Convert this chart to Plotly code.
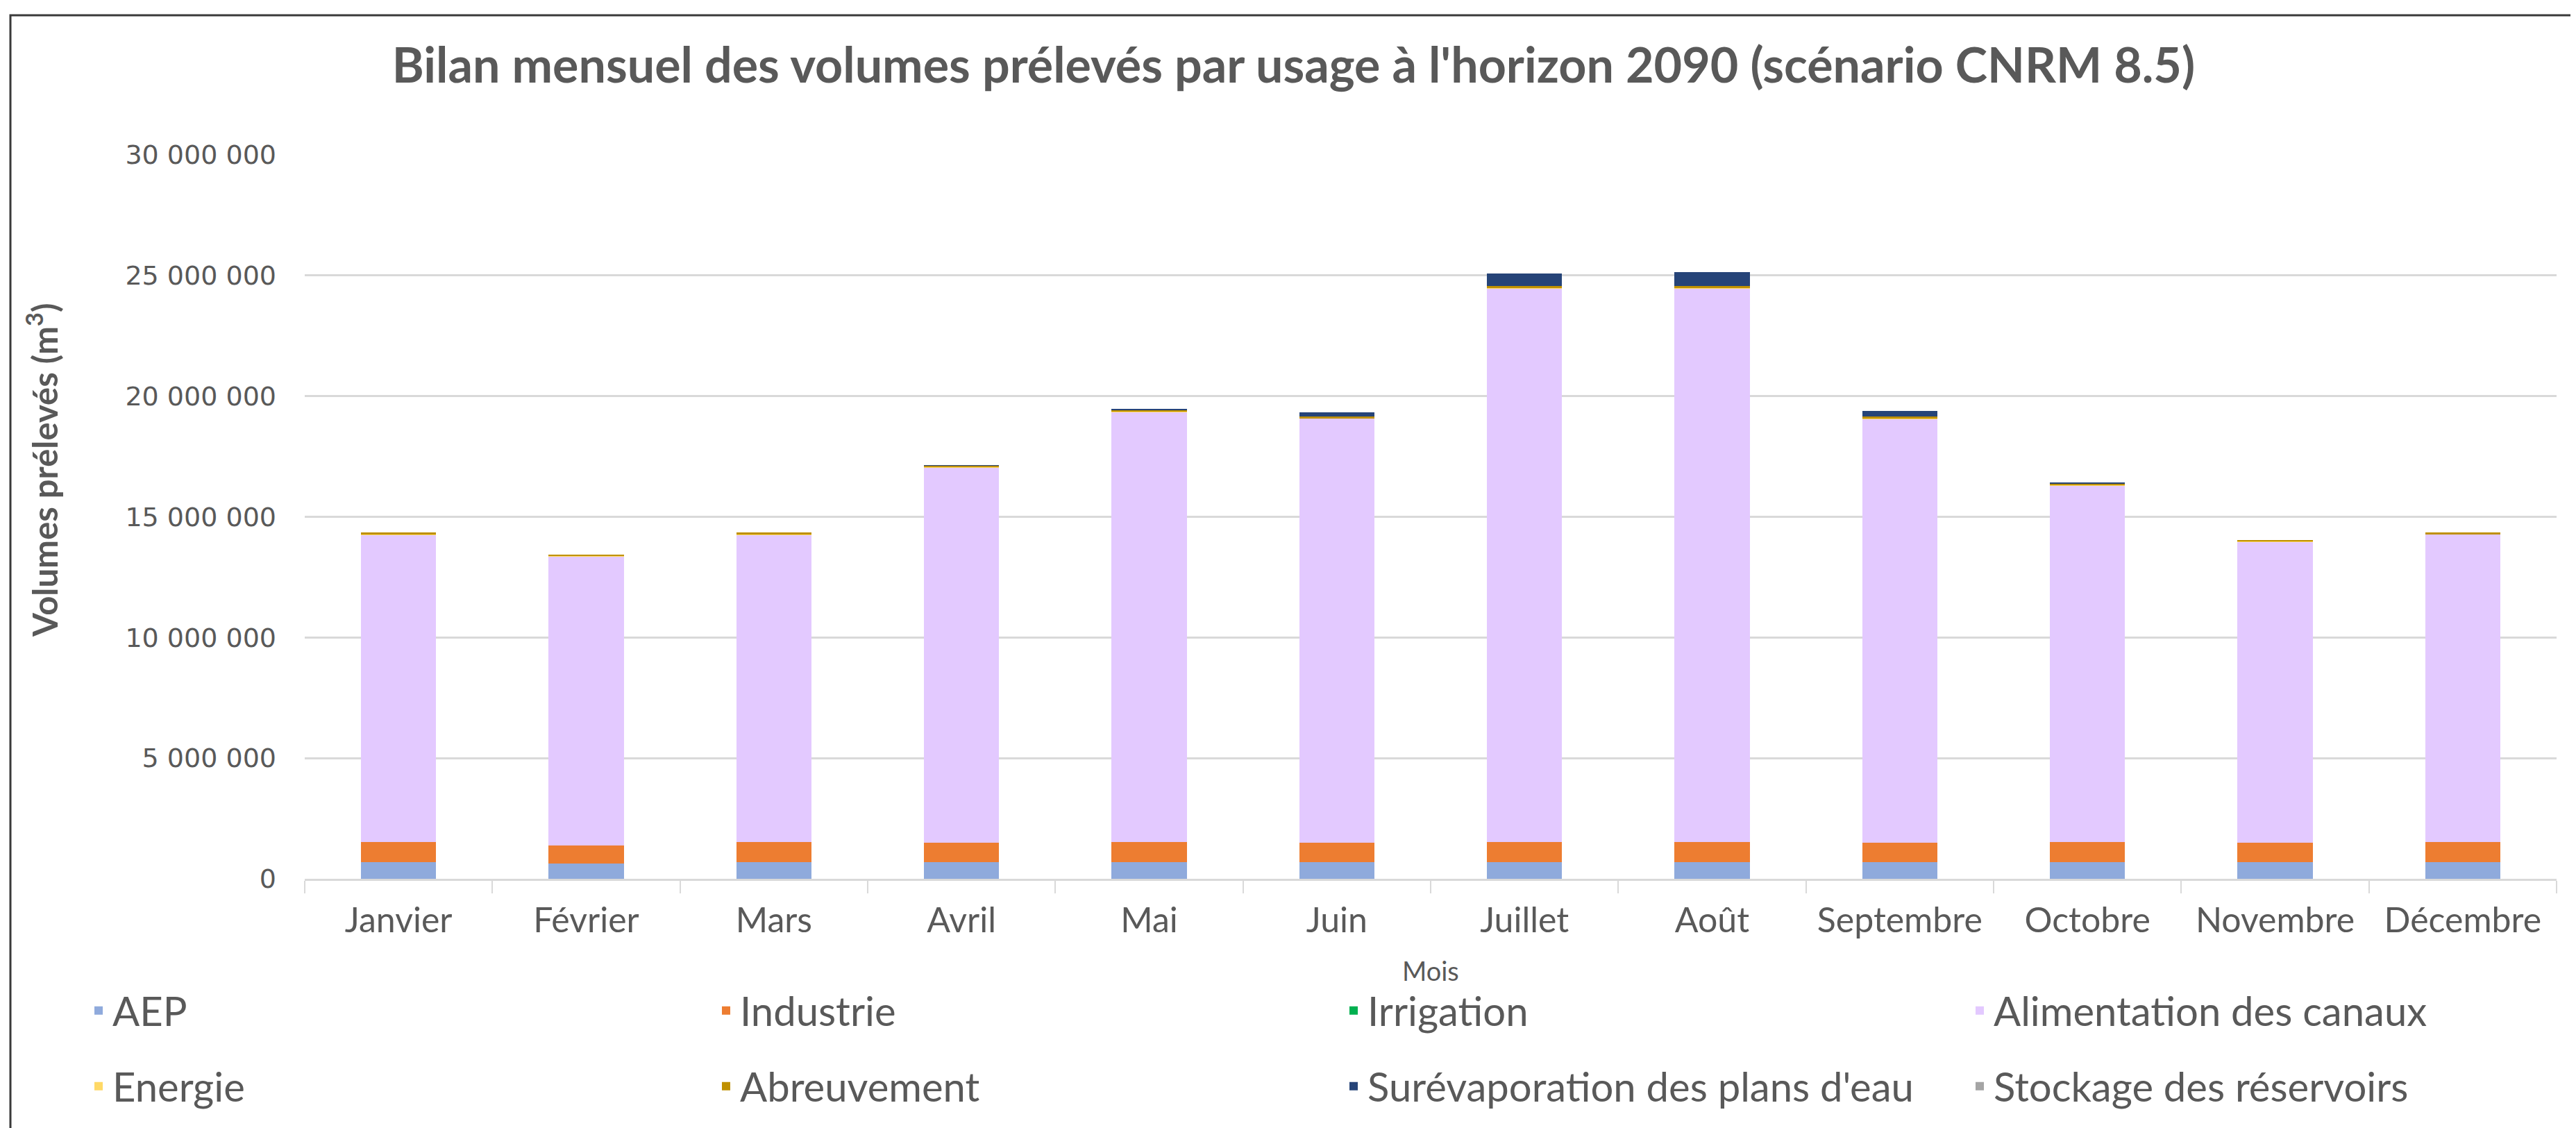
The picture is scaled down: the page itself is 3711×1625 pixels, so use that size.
import plotly.graph_objects as go

# ---------------------------
# Data (m3)
# ---------------------------
mois = ["Janvier", "Février", "Mars", "Avril", "Mai", "Juin", "Juillet",
        "Août", "Septembre", "Octobre", "Novembre", "Décembre"]

aep = [700000, 630000, 700000, 680000, 700000, 680000,
       700000, 700000, 680000, 700000, 680000, 700000]
industrie = [830000, 760000, 830000, 820000, 830000, 820000,
             830000, 830000, 820000, 830000, 820000, 830000]
irrigation = [0, 0, 0, 0, 0, 0, 0, 0, 0, 0, 0, 0]
alimentation = [12730000, 11980000, 12730000, 15550000, 17820000, 17570000,
                22940000, 22940000, 17560000, 14760000, 12460000, 12740000]
energie = [10000, 10000, 10000, 10000, 10000, 10000,
           10000, 10000, 10000, 10000, 10000, 10000]
abreuvement = [70000, 65000, 70000, 70000, 75000, 75000,
               80000, 80000, 75000, 75000, 70000, 70000]
surevaporation = [0, 0, 0, 10000, 30000, 160000,
                  520000, 580000, 250000, 30000, 0, 0]
stockage = [0, 0, 0, 0, 0, 0, 0, 0, 0, 0, 0, 0]

series = [
    ("AEP", aep, "#8FAADC"),
    ("Industrie", industrie, "#ED7D31"),
    ("Irrigation", irrigation, "#00B050"),
    ("Alimentation des canaux", alimentation, "#E3C9FF"),
    ("Energie", energie, "#FFD966"),
    ("Abreuvement", abreuvement, "#BF9000"),
    ("Surévaporation des plans d'eau", surevaporation, "#264478"),
    ("Stockage des réservoirs", stockage, "#A5A5A5"),
]

W, H = 3711, 1625
ML, MR, MT, MB = 431, 36, 215, 367
GREY = "#595959"
FONT = "Lato"

# legend grid: 4 columns x 2 rows (pixel positions in the page)
LEG_COLS = [114, 1018, 1922, 2824]
LEG_ROWS = [1448, 1557]

fig = go.Figure()
legends = {}
for i, (name, vals, color) in enumerate(series):
    key = "legend" if i == 0 else f"legend{i + 1}"
    fig.add_trace(go.Bar(
        x=mois, y=vals, name=name, showlegend=True,
        marker=dict(color=color, line=dict(width=0)),
        legend=key,
    ))
    legends[key] = dict(
        orientation="h",
        xref="container", x=LEG_COLS[i % 4] / W, xanchor="left",
        yref="container", y=1 - LEG_ROWS[i // 4] / H, yanchor="middle",
        font=dict(family=FONT, size=58, color=GREY),
        bgcolor="rgba(0,0,0,0)",
    )

# paper coords of the outer chart frame
pw, ph = W - ML - MR, H - MT - MB
fx0 = (7 - ML) / pw
fx1 = (3704 - ML) / pw
fy1 = (H - MB - 14) / ph
fy0 = (H - MB - 1640) / ph

fig.update_layout(
    width=W, height=H, autosize=False,
    margin=dict(l=ML, r=MR, t=MT, b=MB, autoexpand=False),
    paper_bgcolor="white", plot_bgcolor="white",
    barmode="stack", bargap=0.6,
    showlegend=True,
    separators=", ",
    font=dict(family=FONT, color=GREY),
    title=dict(
        text="<b>Bilan mensuel des volumes prélevés par usage à l'horizon 2090 (scénario CNRM 8.5)</b>",
        x=0.5, xref="container", xanchor="center",
        y=1 - 86 / H, yref="container", yanchor="middle",
        font=dict(family=FONT, size=70, color=GREY),
    ),
    xaxis=dict(
        type="category",
        showline=True, linecolor="#D9D9D9", linewidth=3,
        ticks="outside", tickson="boundaries", ticklen=18, tickwidth=2,
        tickcolor="#D9D9D9",
        tickfont=dict(family=FONT, size=50, color=GREY),
        ticklabelstandoff=14,
        showgrid=False,
    ),
    yaxis=dict(
        range=[0, 30000000], dtick=5000000, tickformat=",d",
        showgrid=True, gridcolor="#D9D9D9", gridwidth=3,
        zeroline=False, showline=False, ticks="",
        tickfont=dict(family="DejaVu Sans", size=38, color=GREY),
        ticklabelstandoff=40,
    ),
    shapes=[dict(
        type="rect", xref="paper", yref="paper",
        x0=fx0, x1=fx1, y0=fy0, y1=fy1,
        line=dict(color="#3A3A3A", width=3),
        fillcolor="rgba(0,0,0,0)", layer="below",
    )],
    annotations=[
        dict(
            text="<b>Volumes prélevés (m<sup>3</sup>)</b>",
            xref="paper", yref="paper",
            x=(52 - ML) / pw, y=(H - MB - 670) / ph,
            xanchor="center", yanchor="middle",
            textangle=-90, showarrow=False,
            font=dict(family=FONT, size=49, color=GREY),
        ),
        dict(
            text="Mois",
            xref="paper", yref="paper",
            x=(2053 - ML) / pw, y=(H - MB - 1390) / ph,
            xanchor="center", yanchor="middle",
            showarrow=False,
            font=dict(family=FONT, size=38, color=GREY),
        ),
    ],
    **legends,
)

fig.write_html("out.html")
